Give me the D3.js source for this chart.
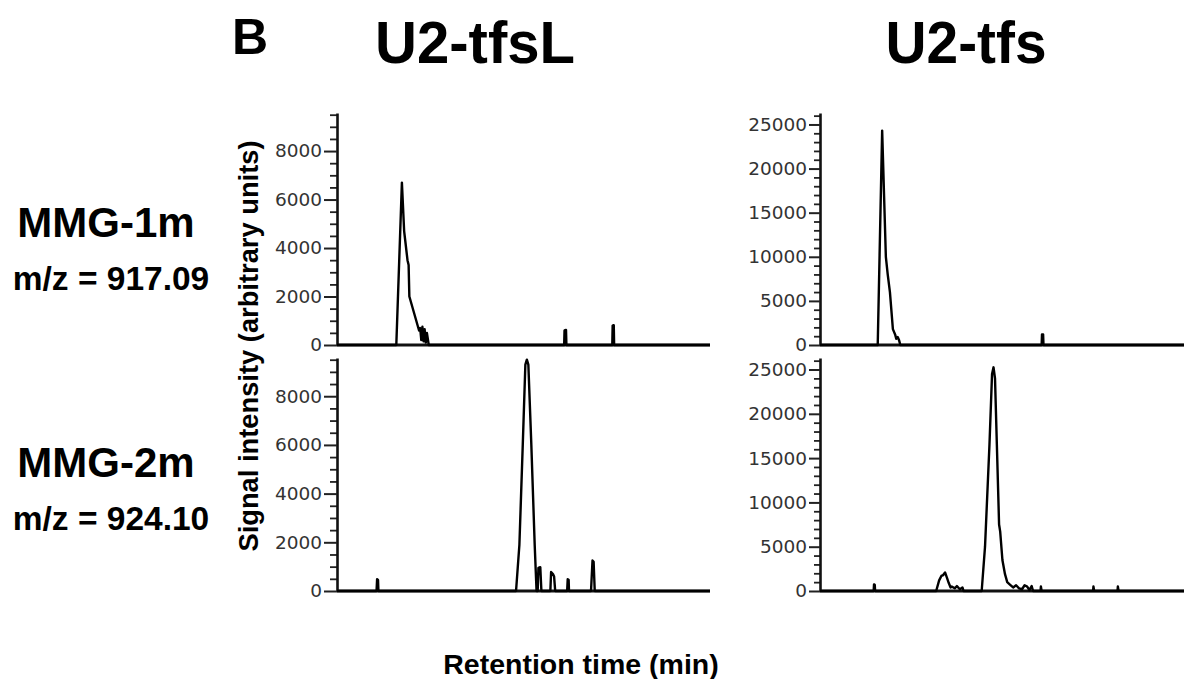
<!DOCTYPE html>
<html>
<head>
<meta charset="utf-8">
<script src="https://cdn.jsdelivr.net/npm/d3@7"></script>
<style>
  html, body { margin: 0; padding: 0; background: #fff; }
  svg { display: block; }
</style>
</head>
<body>
<div id="chart"></div>
<script>
// Extracted-ion chromatograms, 2 rows (compounds) x 2 columns (strains).

const colNames = ['U2-tfsL', 'U2-tfs'];
const rowNames = ['MMG-1m', 'MMG-2m'];
const rowMz = ['m/z = 917.09', 'm/z = 924.10'];

const leftMajorTicks  = [0, 2000, 4000, 6000, 8000];
const rightMajorTicks = [0, 5000, 10000, 15000, 20000, 25000];

// retention time is unlabelled in the figure: 0..100 across each panel
const tfsL_mmg1_time = [0, 15.9, 17.4, 18.0, 18.3, 18.9, 19.2, 19.4, 20.7, 22.0, 22.3, 22.6, 22.9, 23.2, 23.5, 23.8, 24.1, 24.6,
  60.9, 61.0, 61.4, 61.5, 73.8, 73.9, 74.2, 74.3, 100];
const tfsL_mmg1_signal = [0, 0, 6700, 4700, 4300, 3500, 3300, 2000, 1300, 600, 700, 200, 750, 150, 650, 100, 500, 0,
  0, 600, 620, 0, 0, 800, 820, 0, 0];

const tfsL_mmg2_time = [0, 10.6, 10.75, 11.0, 11.1, 48.0, 48.9, 49.8, 50.5, 50.9, 51.3, 52.1, 53.0, 53.5,
  53.8, 54.0, 54.5, 54.8, 57.2, 57.4, 57.9, 58.2, 58.5, 61.7, 61.85, 62.1, 62.2, 68.1, 68.5, 68.8, 69.1, 100];
const tfsL_mmg2_signal = [0, 0, 480, 450, 0, 0, 1900, 6000, 9300, 9500, 9300, 6000, 1900, 0,
  0, 950, 980, 0, 0, 780, 700, 600, 0, 0, 480, 460, 0, 0, 1250, 1200, 0, 0];

const tfs_mmg1_time = [0, 15.6, 16.8, 17.8, 18.3, 18.9, 19.7, 20.3, 20.6, 21.0, 21.4, 21.7, 59.9, 60.0, 60.3, 60.4, 100];
const tfs_mmg1_signal = [0, 0, 24300, 10000, 8000, 6000, 1800, 1200, 700, 900, 500, 0, 0, 1200, 1200, 0, 0];

const tfs_mmg2_time = [0, 14.5, 14.6, 14.8, 14.9,
  31.4, 32.2, 32.8, 33.3, 33.8, 34.3, 34.8, 35.3, 35.6, 36.4, 37.0, 37.8, 38.5, 38.8,
  43.7, 44.6, 45.8, 46.5, 46.9, 47.3, 47.8, 48.4, 48.7, 49.3, 50.0, 50.6, 51.4, 52.2, 53.0, 53.8, 54.6,
  55.3, 56.0, 56.6, 57.2, 57.6, 59.6, 59.7, 59.9, 73.8, 73.9, 74.1, 80.4, 80.5, 80.7, 100];
const tfs_mmg2_signal = [0, 0, 750, 700, 0,
  0, 1200, 1700, 1800, 2100, 1500, 900, 400, 500, 300, 550, 200, 400, 0,
  0, 5000, 16500, 24500, 25250, 24000, 16500, 7500, 6700, 3500, 1900, 1000, 700, 400, 650, 300, 200,
  650, 500, 100, 550, 0, 0, 500, 0, 0, 500, 0, 0, 500, 0, 0];

const W = 1184, H = 679;
const svg = d3.select('#chart').append('svg')
  .attr('width', W).attr('height', H)
  .attr('viewBox', [0, 0, W, H]);

const boldFont = '"Liberation Sans", Arial, Helvetica, sans-serif';
const tickFont = '"DejaVu Sans", Verdana, sans-serif';

const colX = [[337, 710], [820, 1190]];
const rowY = [[345, 113], [591, 358]];
const colMax = [9570, 26300];
const colTicks = [leftMajorTicks, rightMajorTicks];
const colMinorStep = [500, 1000];
const colTickLen = [[13, 7], [11, 6]];

const panels = [
  { row: 0, col: 0, t: tfsL_mmg1_time, v: tfsL_mmg1_signal },
  { row: 0, col: 1, t: tfs_mmg1_time,  v: tfs_mmg1_signal },
  { row: 1, col: 0, t: tfsL_mmg2_time, v: tfsL_mmg2_signal },
  { row: 1, col: 1, t: tfs_mmg2_time,  v: tfs_mmg2_signal },
];

panels.forEach(p => {
  const x = d3.scaleLinear().domain([0, 100]).range(colX[p.col]);
  const y = d3.scaleLinear().domain([0, colMax[p.col]]).range(rowY[p.row]);
  const g = svg.append('g');

  const minor = d3.range(0, colMax[p.col], colMinorStep[p.col])
    .filter(v => !colTicks[p.col].includes(v));

  // minor ticks
  g.append('g')
    .attr('transform', `translate(${colX[p.col][0]},0)`)
    .call(d3.axisLeft(y).tickValues(minor).tickSize(colTickLen[p.col][1]).tickSizeOuter(0).tickFormat(''))
    .call(a => a.select('.domain').remove())
    .call(a => a.selectAll('line').attr('stroke', '#222').attr('stroke-width', 1.8));

  // major ticks + labels
  g.append('g')
    .attr('transform', `translate(${colX[p.col][0]},0)`)
    .call(d3.axisLeft(y).tickValues(colTicks[p.col]).tickSize(colTickLen[p.col][0])
      .tickSizeOuter(0).tickPadding(2).tickFormat(d3.format('d')))
    .call(a => a.select('.domain').attr('stroke', '#111').attr('stroke-width', 2.6))
    .call(a => a.selectAll('line').attr('stroke', '#222').attr('stroke-width', 2))
    .call(a => a.selectAll('text')
      .attr('font-family', tickFont).attr('font-size', 18.5).attr('fill', '#333'));

  // baseline
  g.append('line')
    .attr('x1', colX[p.col][0]).attr('x2', colX[p.col][1])
    .attr('y1', y(0)).attr('y2', y(0))
    .attr('stroke', '#111').attr('stroke-width', 2.8);

  const pts = p.t.map((t, i) => [t, p.v[i]]);
  g.append('path')
    .datum(pts)
    .attr('fill', 'none')
    .attr('stroke', '#000')
    .attr('stroke-width', 2.4)
    .attr('stroke-linejoin', 'round')
    .attr('d', d3.line().x(d => x(d[0])).y(d => y(d[1])));
});

// titles
svg.append('text').attr('x', 232).attr('y', 54)
  .attr('font-family', boldFont).attr('font-weight', 'bold').attr('font-size', 50)
  .text('B');

const titleX = [475, 966], titleW = [200, 161];
colNames.forEach((n, i) => {
  svg.append('text').attr('x', titleX[i]).attr('y', 63)
    .attr('text-anchor', 'middle')
    .attr('font-family', boldFont).attr('font-weight', 'bold').attr('font-size', 60)
    .attr('textLength', titleW[i]).attr('lengthAdjust', 'spacingAndGlyphs')
    .text(n);
});

const rowBase = [237, 477];
rowNames.forEach((n, i) => {
  svg.append('text').attr('x', 106).attr('y', rowBase[i])
    .attr('text-anchor', 'middle')
    .attr('font-family', boldFont).attr('font-weight', 'bold').attr('font-size', 42)
    .text(n);
  svg.append('text').attr('x', 111).attr('y', rowBase[i] + 53)
    .attr('text-anchor', 'middle')
    .attr('font-family', boldFont).attr('font-weight', 'bold').attr('font-size', 33.5)
    .text(rowMz[i]);
});

svg.append('text')
  .attr('transform', 'translate(258,346) rotate(-90)')
  .attr('text-anchor', 'middle')
  .attr('font-family', boldFont).attr('font-weight', 'bold').attr('font-size', 27.3)
  .text('Signal intensity (arbitrary units)');

svg.append('text').attr('x', 581).attr('y', 674)
  .attr('text-anchor', 'middle')
  .attr('font-family', boldFont).attr('font-weight', 'bold').attr('font-size', 28.5)
  .text('Retention time (min)');
</script>
</body>
</html>
